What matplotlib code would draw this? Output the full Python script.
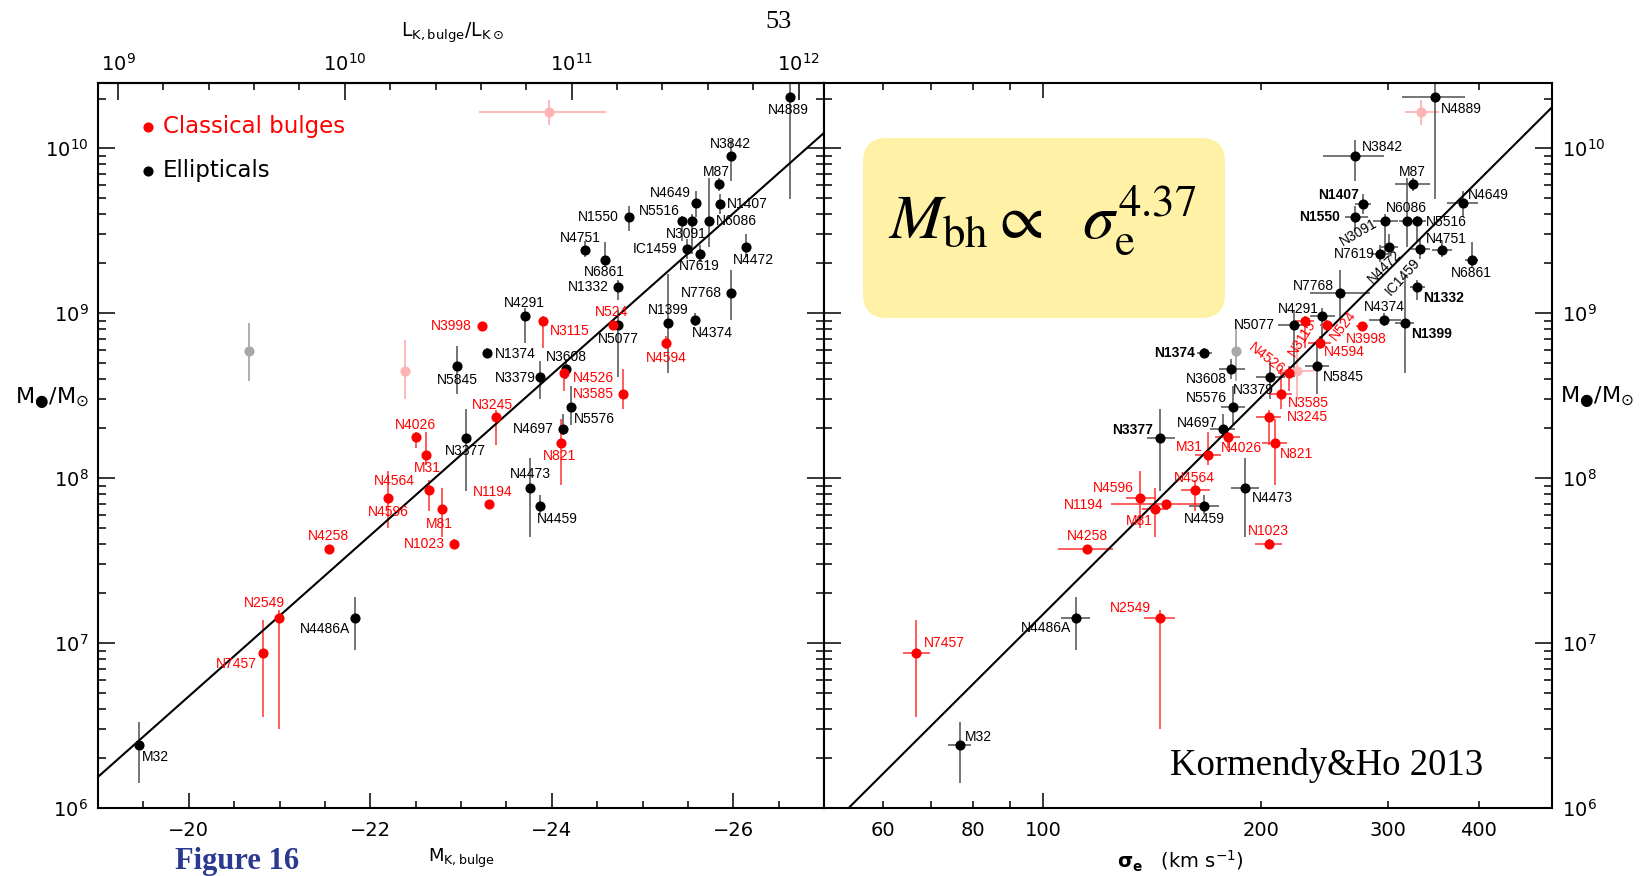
import numpy as np
import matplotlib
matplotlib.use("Agg")
import matplotlib.pyplot as plt
from matplotlib.patches import FancyBboxPatch
from matplotlib.transforms import IdentityTransform
from matplotlib.ticker import FixedLocator, FuncFormatter, LogLocator, NullFormatter

# ---------------- galaxy sample ----------------
names = ["N4889", "N3842", "M87", "N4649", "N1407", "N1550", "N5516", "N3091",
         "N6086", "N4751", "N6861", "IC1459", "N7619", "N4472", "N1332", "N7768",
         "N4291", "N5077", "N1399", "N4374", "N1374", "N5845", "N3379", "N3608",
         "N5576", "N4697", "N3377", "N4473", "N4459", "N4486A", "M32",
         "N3998", "N3115", "N524", "N4594", "N4526", "N3585", "N3245", "N821",
         "N4026", "M31", "N4596", "N4564", "N1194", "M81", "N1023", "N4258",
         "N2549", "N7457"]
kind = ["E"] * 31 + ["C"] * 18          # E = elliptical, C = classical bulge
mk_bulge = [-26.62, -25.97, -25.84, -25.59, -25.85, -24.85, -25.44, -25.54,
            -25.73, -24.37, -24.59, -25.49, -25.63, -26.14, -24.73, -25.98,
            -23.70, -24.73, -25.28, -25.58, -23.29, -22.96, -23.87, -24.16,
            -24.21, -24.12, -23.05, -23.76, -23.87, -21.83, -19.45,
            -23.23, -23.90, -24.68, -25.26, -24.13, -24.79, -23.39, -24.10,
            -22.50, -22.61, -22.20, -22.65, -23.31, -22.79, -22.92, -21.54,
            -20.99, -20.82]
sigma_e = [348, 270, 324, 380, 277, 270, 329, 297,
           318, 356, 391, 332, 292, 301, 329, 257,
           243, 222, 316, 296, 167, 239, 206, 182,
           183, 177, 145, 190, 167, 111, 76.7,
           276, 230, 247, 241, 219, 213, 205, 209,
           180, 169, 136, 162, 148, 143, 205, 115,
           145, 66.8]
sigma_lo = [313, 244, 306, 362, 270, 261, 320, 286,
            310, 345, 383, 322, 284, 293, 321, 234,
            234, 211, 306, 282, 163, 230, 197, 175,
            176, 170, 139, 182, 159, 106, 73.9,
            271, 223, 241, 232, 211, 205, 197, 201,
            173, 162, 130, 155, 124, 137, 196, 105,
            138, 64.0]
sigma_hi = [383, 296, 343, 399, 284, 281, 338, 309,
            326, 367, 399, 342, 300, 309, 337, 283,
            253, 234, 326, 312, 171, 248, 216, 190,
            190, 184, 152, 199, 175, 116, 79.6,
            281, 237, 253, 250, 227, 221, 213, 217,
            187, 176, 143, 170, 166, 149, 214, 125,
            152, 69.8]
log_mbh = [10.31, 9.95, 9.78, 9.67, 9.66, 9.58, 9.56, 9.56,
           9.56, 9.38, 9.32, 9.39, 9.36, 9.40, 9.16, 9.12,
           8.98, 8.93, 8.94, 8.96, 8.76, 8.68, 8.61, 8.66,
           8.43, 8.30, 8.24, 7.94, 7.83, 7.15, 6.38,
           8.92, 8.95, 8.93, 8.82, 8.64, 8.51, 8.37, 8.21,
           8.25, 8.14, 7.88, 7.93, 7.84, 7.81, 7.60, 7.57,
           7.15, 6.94]
log_mbh_lo = [9.69, 9.80, 9.74, 9.58, 9.60, 9.50, 9.44, 9.36,
              9.40, 9.34, 9.28, 9.33, 9.31, 9.34, 9.08, 8.96,
              8.82, 8.61, 8.64, 8.92, 8.74, 8.51, 8.48, 8.60,
              8.32, 8.26, 7.92, 7.64, 7.78, 6.96, 6.15,
              8.90, 8.79, 8.91, 8.78, 8.53, 8.42, 8.20, 7.96,
              8.18, 8.08, 7.70, 7.80, 7.82, 7.64, 7.57, 7.56,
              6.48, 6.55]
log_mbh_hi = [10.57, 10.05, 9.82, 9.74, 9.72, 9.65, 9.59, 9.60,
              9.82, 9.44, 9.43, 9.45, 9.41, 9.48, 9.20, 9.26,
              9.03, 9.02, 9.24, 9.00, 8.79, 8.80, 8.71, 8.72,
              8.56, 8.39, 8.42, 8.12, 7.90, 7.28, 6.52,
              8.94, 8.98, 8.96, 8.86, 8.68, 8.66, 8.41, 8.36,
              8.28, 8.28, 8.04, 7.99, 7.86, 7.94, 7.63, 7.58,
              7.20, 7.14]

# objects shown faintly (omitted from the fits)
faded_kind = ["E", "C", "C"]
faded_mk = [-20.66, -22.38, -23.97]
faded_mk_lo = [-20.66, -22.38, -23.20]
faded_mk_hi = [-20.66, -22.38, -24.60]
faded_sigma = [185, 224, 333]
faded_sigma_lo = [185, 212, 316]
faded_sigma_hi = [185, 237, 352]
faded_log_mbh = [8.77, 8.65, 10.22]
faded_log_mbh_lo = [8.59, 8.48, 10.14]
faded_log_mbh_hi = [8.94, 8.84, 10.29]

# fits:  log Mbh = zero + slope * (log L - 11)  /  zero + slope * log(sigma/200)
M_SUN_K = 3.28
FIT_L_ZERO, FIT_L_SLOPE = 8.736, 1.22
FIT_S_ZERO, FIT_S_SLOPE = 8.49, 4.37

sigma_tick_labels = [60, 80, 100, 200, 300, 400]
lum_ticks = [9, 10, 11, 12]
mk_ticks = [-20, -22, -24, -26]
legend_entries = [("Classical bulges", "#ff0000"), ("Ellipticals", "black")]

# label placement (offset from the point in pixels; rotation for the right panel)
left_label_pos = {
    "N4889": (-1, -13), "N3842": (0, 12), "M87": (-2, 12), "N4649": (-26, 10),
    "N1407": (28, 0), "N5516": (-23, 10), "N3091": (-5, -13), "N1550": (-31, 0),
    "N6086": (28, 0), "N4751": (-5, 12), "IC1459": (-32, 0), "N7619": (0, -12),
    "N4472": (7, -13), "N6861": (-1, -12), "N1332": (-30, 0), "N7768": (-30, 0),
    "N4291": (0, 13), "N3998": (-31, 0), "N3115": (27, -10), "N524": (-2, 13),
    "N5077": (0, -14), "N1399": (0, 13), "N4374": (17, -13), "N4594": (0, -15),
    "N1374": (28, -1), "N3608": (0, 12), "N5845": (0, -14), "N3379": (-25, -1),
    "N4526": (30, -5), "N3585": (-30, 0), "N3245": (-4, 12), "N5576": (24, -12),
    "N4697": (-29, 0), "N821": (-1, -13), "N4026": (0, 12), "M31": (2, -13),
    "N3377": (0, -13), "N4473": (0, 14), "N4459": (17, -13), "N1194": (4, 12),
    "M81": (-3, -15), "N1023": (-29, 0), "N4596": (0, -14), "N4564": (-35, 9),
    "N4258": (0, 13), "N2549": (-14, 15), "N7457": (-27, -11),
    "N4486A": (-30, -11), "M32": (17, -12),
}
right_label_pos = {
    "N4889": (26, -12, 0), "N3842": (27, 9, 0), "M87": (0, 12, 0),
    "N4649": (26, 8, 0), "N1407": (-25, 9, 0), "N1550": (-36, 0, 0),
    "N3091": (-27, -12, 30), "N6086": (0, 13, 0), "N5516": (29, -1, 0),
    "N7619": (-26, 0, 0), "N4472": (-5, -19, 45), "IC1459": (-17, -28, 48),
    "N4751": (4, 11, 0), "N6861": (0, -13, 0), "N1332": (26, -11, 0),
    "N7768": (-26, 7, 0), "N4291": (-24, 7, 0), "N4374": (0, 13, 0),
    "N1399": (27, -11, 0), "N5077": (-39, 0, 0), "N3998": (4, -13, 0),
    "N524": (16, -1, 52), "N3115": (-3, -17, 58), "N4526": (-23, 14, -38),
    "N4594": (25, -9, 0), "N5845": (26, -11, 0), "N3379": (-17, -13, 0),
    "N3608": (-25, -10, 0), "N3585": (28, -9, 0), "N5576": (-27, 9, 0),
    "N3245": (39, 0, 0), "N821": (22, -11, 0), "N4697": (-25, 6, 0),
    "N4026": (14, -11, 0), "N4473": (28, -10, 0), "N1023": (0, 13, 0),
    "N1374": (-30, 0, 0), "N3377": (-27, 8, 0), "M31": (-19, 8, 0),
    "N4564": (0, 12, 0), "N4459": (0, -13, 0), "N4596": (-26, 10, 0),
    "N1194": (-83, -1, 0), "M81": (-16, -12, 0), "N4258": (0, 13, 0),
    "N7457": (28, 10, 0), "M32": (19, 8, 0), "N4486A": (-30, -10, 0),
    "N2549": (-29, 10, 0),
}
right_bold_labels = {"N1374", "N3377", "N1399", "N1407", "N1550", "N1332"}

# ---------------- drawing ----------------
W, H, DPI = 1642, 876, 100
RED, RED_BAR, BLACK_BAR = "#ff0000", "#ff3030", "#505050"
FADED = {"E": "#a8a8a8", "C": "#ffb4b4"}
LABEL_FONT = "Liberation Sans"
DOT = 7.3


def fx(px):
    return px / W


def fy(py):
    return (H - py) / H


fig = plt.figure(figsize=(W / DPI, H / DPI), dpi=DPI)
ax1 = fig.add_axes([fx(98), fy(808), (824 - 98) / W, (808 - 83) / H])
ax2 = fig.add_axes([fx(824), fy(808), (1552 - 824) / W, (808 - 83) / H])

kind_arr = np.array(kind)
mk = np.array(mk_bulge)
sig = np.array(sigma_e)
mbh = 10 ** np.array(log_mbh)
yerr = np.vstack([mbh - 10 ** np.array(log_mbh_lo), 10 ** np.array(log_mbh_hi) - mbh])
xerr_sig = np.vstack([sig - np.array(sigma_lo), np.array(sigma_hi) - sig])

# faint points
f_mk = np.array(faded_mk)
f_mk_a = np.minimum(faded_mk_lo, faded_mk_hi)
f_mk_b = np.maximum(faded_mk_lo, faded_mk_hi)
f_sig = np.array(faded_sigma)
f_mbh = 10 ** np.array(faded_log_mbh)
f_yerr = np.vstack([f_mbh - 10 ** np.array(faded_log_mbh_lo),
                    10 ** np.array(faded_log_mbh_hi) - f_mbh])
for i, k in enumerate(faded_kind):
    c = FADED[k]
    ax1.errorbar([f_mk[i]], [f_mbh[i]], yerr=f_yerr[:, i:i + 1],
                 xerr=[[f_mk[i] - f_mk_a[i]], [f_mk_b[i] - f_mk[i]]],
                 fmt="o", color=c, ms=DOT, mec="none", elinewidth=1.3, zorder=2)
    ax2.errorbar([f_sig[i]], [f_mbh[i]], yerr=f_yerr[:, i:i + 1],
                 xerr=[[f_sig[i] - faded_sigma_lo[i]], [faded_sigma_hi[i] - f_sig[i]]],
                 fmt="o", color=c, ms=DOT, mec="none", elinewidth=1.3, zorder=2)

# fit lines
mk_line = np.linspace(-18.5, -27.5, 60)
log_l_line = 0.4 * (M_SUN_K - mk_line)
ax1.plot(mk_line, 10 ** (FIT_L_ZERO + FIT_L_SLOPE * (log_l_line - 11)),
         color="black", lw=1.5, zorder=3)
s_line = np.logspace(np.log10(40), np.log10(600), 60)
ax2.plot(s_line, 10 ** (FIT_S_ZERO + FIT_S_SLOPE * np.log10(s_line / 200)),
         color="black", lw=1.5, zorder=3)

for k, col, ecol in [("E", "black", BLACK_BAR), ("C", RED, RED_BAR)]:
    sel = kind_arr == k
    ax1.errorbar(mk[sel], mbh[sel], yerr=yerr[:, sel], fmt="none",
                 ecolor=ecol, elinewidth=1.1, zorder=2)
    ax1.plot(mk[sel], mbh[sel], "o", color=col, ms=DOT, mec="none", zorder=4)
    ax2.errorbar(sig[sel], mbh[sel], yerr=yerr[:, sel], xerr=xerr_sig[:, sel],
                 fmt="none", ecolor=ecol, elinewidth=1.1, zorder=2)
    ax2.plot(sig[sel], mbh[sel], "o", color=col, ms=DOT, mec="none", zorder=4)

for i, name in enumerate(names):
    col = RED if kind[i] == "C" else "black"
    dx, dy = left_label_pos[name]
    ax1.annotate(name, (mk[i], mbh[i]), xytext=(dx, dy), textcoords="offset pixels",
                 ha="center", va="center", fontsize=10, color=col,
                 family=LABEL_FONT, zorder=5)
    dx, dy, rot = right_label_pos[name]
    ax2.annotate(name, (sig[i], mbh[i]), xytext=(dx, dy), textcoords="offset pixels",
                 ha="center", va="center", fontsize=10, color=col, rotation=rot,
                 rotation_mode="anchor", family=LABEL_FONT,
                 weight="bold" if name in right_bold_labels else "normal", zorder=5)

# ---------------- axes styling ----------------
for ax in (ax1, ax2):
    ax.set_yscale("log")
    ax.set_ylim(1e6, 10 ** 10.395)
    ax.yaxis.set_major_locator(LogLocator(base=10, numticks=12))
    ax.yaxis.set_minor_locator(LogLocator(base=10, subs=np.arange(2, 10), numticks=40))
    ax.yaxis.set_minor_formatter(NullFormatter())
    ax.tick_params(which="both", direction="in", width=1.1, labelsize=14)
    ax.tick_params(axis="y", which="major", length=12, pad=7)
    ax.tick_params(axis="y", which="minor", length=5.5)
    ax.tick_params(axis="x", which="major", length=11, pad=9)
    ax.tick_params(axis="x", which="minor", length=5, pad=9)
    for sp in ax.spines.values():
        sp.set_linewidth(1.5)

# left panel: absolute magnitude, luminosity on top
ax1.set_xlim(-19, -27)
ax1.xaxis.set_major_locator(FixedLocator(mk_ticks))
ax1.xaxis.set_minor_locator(FixedLocator(np.arange(-19.5, -27.01, -0.5)))
ax1.tick_params(axis="y", which="both", left=True, right=True, labelleft=True, labelright=False)
ax1.tick_params(axis="x", which="both", bottom=True, top=False)

sec = ax1.secondary_xaxis("top", functions=(lambda m: 0.4 * (M_SUN_K - m),
                                             lambda l: M_SUN_K - 2.5 * l))
sec.set_xticks(lum_ticks, labels=[rf"$10^{{{t}}}$" for t in lum_ticks])
sec.xaxis.set_minor_locator(FixedLocator(np.arange(9.0, 12.01, 0.2)))
sec.tick_params(which="both", direction="in", width=1.1)
sec.tick_params(which="major", length=12, labelsize=14, pad=6)
sec.tick_params(which="minor", length=5)
sec.spines["top"].set_linewidth(1.5)

# right panel: velocity dispersion
ax2.set_xscale("log")
ax2.set_xlim(49.8, 505)
ax2.xaxis.set_major_locator(FixedLocator([100]))
ax2.xaxis.set_major_formatter(FuncFormatter(lambda v, p: f"{v:.0f}"))
ax2.xaxis.set_minor_locator(FixedLocator([60, 70, 80, 90, 200, 300, 400]))
ax2.xaxis.set_minor_formatter(
    FuncFormatter(lambda v, p: f"{v:.0f}" if round(v) in sigma_tick_labels else ""))
ax2.tick_params(axis="x", which="both", top=True, bottom=True, labeltop=False)
ax2.tick_params(axis="y", which="both", left=True, right=True,
                labelleft=False, labelright=True)

# legend
for j, (txt, col) in enumerate(legend_entries):
    yy = fy(127 + 44 * j)
    fig.lines.append(plt.Line2D([fx(148)], [yy], marker="o", ms=DOT, color=col,
                                mec="none", transform=fig.transFigure))
    fig.text(fx(163), yy, txt, color=col, fontsize=16.5, va="center", ha="left")

# axis titles
fig.text(fx(401), fy(37), r"$\mathregular{L_{K,bulge}/L_{K\odot}}$", fontsize=13.5,
         ha="left", va="baseline")
ylab = r"M$_{●}$/M$_{\odot}$"
fig.text(fx(15), fy(403), ylab, fontsize=16, ha="left", va="baseline")
fig.text(fx(1560), fy(402), ylab, fontsize=16, ha="left", va="baseline")
fig.text(fx(428), fy(862), r"$\mathregular{M_{K,bulge}}$", fontsize=13,
         ha="left", va="baseline")
fig.text(fx(1117), fy(868), r"$\mathbf{\sigma}_{\mathbf{e}}$   (km s$^{-1}$)",
         fontsize=14, ha="left", va="baseline")

# page furniture
fig.text(fx(778), fy(28), "53", family="Liberation Serif", fontsize=19,
         ha="center", va="baseline")
fig.text(fx(175), fy(869), "Figure 16", family="Liberation Serif", weight="bold",
         fontsize=22, color="#2b3990", ha="left", va="baseline")

# relation box
box = FancyBboxPatch((863, H - 318), 362, 180,
                     boxstyle="round,pad=0,rounding_size=24",
                     transform=IdentityTransform(), facecolor="#fff2a6",
                     edgecolor="none", zorder=6)
fig.add_artist(box)
fig.text(fx(888), fy(238), r"$M_{\rm bh}\propto\ \ \sigma_{\rm e}^{4.37}$",
         math_fontfamily="stix", fontsize=46, ha="left", va="baseline", zorder=7)

fig.text(fx(1170), fy(775), "Kormendy&Ho 2013", family="Liberation Serif",
         fontsize=26.5, ha="left", va="baseline")

fig.savefig("out.png", dpi=DPI)
